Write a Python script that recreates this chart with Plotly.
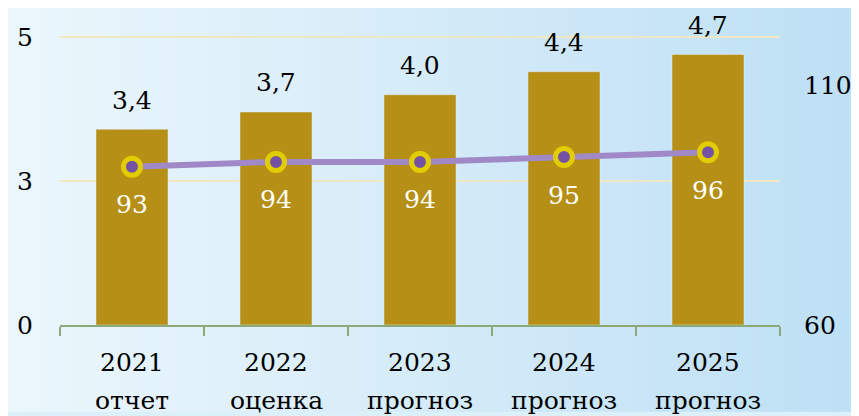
import plotly.graph_objects as go

years = ["2021", "2022", "2023", "2024", "2025"]
stages = ["отчет", "оценка", "прогноз", "прогноз", "прогноз"]
bar_values = [3.4, 3.7, 4.0, 4.4, 4.7]
line_values = [93, 94, 94, 95, 96]
left_ticks = [0, 2.5, 5]
left_tick_text = ["0", "3", "5"]
right_ticks = [60, 110]

categories = [f"{y}<br>{s}" for y, s in zip(years, stages)]
serif = "DejaVu Serif"
fs = 25

fig = go.Figure()
fig.add_trace(go.Bar(x=categories, y=bar_values, marker=dict(color="#B58F16"),
                     width=0.5, showlegend=False))
fig.add_trace(go.Scatter(x=categories, y=line_values, yaxis="y2", mode="lines+markers",
                         line=dict(color="#A089C6", width=6),
                         marker=dict(size=17, color="#7452A3", line=dict(color="#E2CE00", width=5)),
                         showlegend=False))

# background gradient
n = 60
c0, c1 = (236, 247, 252), (190, 224, 245)
for i in range(n):
    t = i / (n - 1)
    col = tuple(round(a + (b - a) * t) for a, b in zip(c0, c1))
    fig.add_shape(type="rect", xref="paper", yref="paper", x0=-0.1 + 1.2 * i / n,
                  x1=-0.1 + 1.2 * (i + 1) / n + 0.002, y0=-0.3, y1=1.2, line_width=0,
                  fillcolor="rgb(%d,%d,%d)" % col, layer="below")

for c, v in zip(categories, bar_values):
    fig.add_annotation(x=c, y=v, text=f"{v:.1f}".replace(".", ","), showarrow=False,
                       yanchor="middle", yshift=29, font=dict(family=serif, size=fs, color="black"))
for c, v in zip(categories, line_values):
    fig.add_annotation(x=c, y=v, yref="y2", text=str(v), showarrow=False,
                       yanchor="middle", yshift=-38, font=dict(family=serif, size=fs, color="white"))
# two-line category labels
for c, y, s in zip(categories, years, stages):
    fig.add_annotation(x=c, y=0, text=y, showarrow=False, yanchor="middle", yshift=-37,
                       font=dict(family=serif, size=fs, color="black"))
    fig.add_annotation(x=c, y=0, text=s, showarrow=False, yanchor="middle", yshift=-75,
                       font=dict(family=serif, size=fs, color="black"))

fig.update_layout(
    width=851, height=408,
    margin=dict(l=52, r=79, t=28, b=91),
    paper_bgcolor="#dcf0fa", plot_bgcolor="rgba(0,0,0,0)",
    font=dict(family=serif, size=fs, color="black"),
    xaxis=dict(type="category", showline=True, linecolor="#8CA97A", linewidth=2, ticks="outside",
               tickson="boundaries", ticklen=9, tickcolor="#8CA97A", tickwidth=2,
               showgrid=False, showticklabels=False, automargin=False),
    yaxis=dict(range=[0, 5.02], tickvals=left_ticks, ticktext=left_tick_text,
               showgrid=True, gridcolor="#EFE7C4", gridwidth=2, zeroline=False,
               ticks="outside", ticklen=21, tickcolor="rgba(0,0,0,0)", automargin=False),
    yaxis2=dict(range=[60, 120.24], tickvals=right_ticks, overlaying="y", side="right",
                showgrid=False, zeroline=False, ticks="outside", ticklen=18,
                tickcolor="rgba(0,0,0,0)", automargin=False),
)

fig.write_html("out.html")
